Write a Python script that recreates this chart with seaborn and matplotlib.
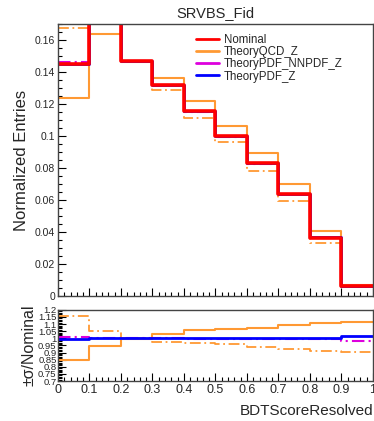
import matplotlib
matplotlib.use("Agg")
import matplotlib.pyplot as plt
from matplotlib.ticker import MultipleLocator, FuncFormatter
from matplotlib.lines import Line2D
import pandas as pd
import seaborn as sns

# bin edges of BDTScoreResolved
edges = [0.0, 0.1, 0.2, 0.3, 0.4, 0.5, 0.6, 0.7, 0.8, 0.9, 1.0]

# normalized entries per bin
nominal = [0.1453, 0.1730, 0.1466, 0.1321, 0.1154, 0.0997, 0.0829, 0.0639, 0.0364, 0.0061]
qcd_up = [0.1236, 0.1640, 0.1460, 0.1362, 0.1218, 0.1060, 0.0891, 0.0700, 0.0403, 0.0068]
qcd_down = [0.1676, 0.1815, 0.1468, 0.1290, 0.1112, 0.0960, 0.0779, 0.0591, 0.0331, 0.0055]
pdf_nnpdf = [0.1462, 0.1731, 0.1467, 0.1320, 0.1152, 0.0995, 0.0827, 0.0637, 0.0362, 0.0060]
pdf_z = [0.1449, 0.1729, 0.1466, 0.1321, 0.1154, 0.0997, 0.0830, 0.0640, 0.0366, 0.0062]

title = "SRVBS_Fid"
xlabel = "BDTScoreResolved"
labels = ["Nominal", "TheoryQCD_Z", "TheoryPDF_NNPDF_Z", "TheoryPDF_Z"]

sns.set_theme(style="ticks")
plt.rcParams['font.family'] = ['Liberation Sans', 'DejaVu Sans']

centers = [(a + b) / 2 for a, b in zip(edges[:-1], edges[1:])]
dashdot = (0, (6, 2, 1, 2))
series = [
    ("TheoryQCD_Z", qcd_up, "#ff9933", "-", 1.5),
    ("TheoryQCD_Z_down", qcd_down, "#ff9933", dashdot, 1.3),
    ("TheoryPDF_NNPDF_Z", pdf_nnpdf, "#dd00dd", dashdot, 1.5),
    ("TheoryPDF_Z", pdf_z, "#0000ff", "-", 2.0),
    ("Nominal", nominal, "#ff0000", "-", 2.6),
]

fig = plt.figure(figsize=(3.74, 4.21), dpi=100)
ax = fig.add_axes([0.155, 0.297, 0.842, 0.646])
rax = fig.add_axes([0.155, 0.095, 0.842, 0.169])

for name, vals, col, ls, lw in series:
    df = pd.DataFrame({"x": centers, "w": vals})
    sns.histplot(data=df, x="x", weights="w", bins=edges, element="step",
                 fill=False, color=col, linestyle=ls, linewidth=lw, ax=ax)
    if name != "Nominal":
        ratio = [v / n for v, n in zip(vals, nominal)]
        rdf = pd.DataFrame({"x": centers, "w": ratio})
        sns.histplot(data=rdf, x="x", weights="w", bins=edges, element="step",
                     fill=False, color=col, linestyle=ls, linewidth=lw, ax=rax)

handles = [Line2D([], [], color=c, lw=2) for c in ["#ff0000", "#ff9933", "#dd00dd", "#0000ff"]]
ax.legend(handles, labels, loc="upper left", bbox_to_anchor=(0.42, 0.985),
          frameon=False, fontsize=8.3, handlelength=2.0, handletextpad=0.4,
          labelspacing=0.02, borderpad=0)

ax.set_xlim(0, 1)
ax.set_ylim(0, 0.17)
ax.set_title(title, fontsize=10.5, pad=5)
ax.set_ylabel("Normalized Entries", fontsize=12, labelpad=4)
ax.set_xlabel("")
ax.yaxis.set_major_locator(MultipleLocator(0.02))
ax.yaxis.set_minor_locator(MultipleLocator(0.005))
ax.xaxis.set_major_locator(MultipleLocator(0.1))
ax.xaxis.set_minor_locator(MultipleLocator(0.02))
ax.yaxis.set_major_formatter(FuncFormatter(lambda v, p: "0" if abs(v) < 1e-9 else f"{v:g}"))
ax.tick_params(axis="x", labelbottom=False)

rax.set_xlim(0, 1)
rax.set_ylim(0.7, 1.2)
rax.set_ylabel("±σ/Nominal", fontsize=11.5, labelpad=1)
rax.set_xlabel(xlabel, fontsize=11, loc="right", labelpad=6)
rax.xaxis.set_major_locator(MultipleLocator(0.1))
rax.xaxis.set_minor_locator(MultipleLocator(0.02))
rax.yaxis.set_major_locator(MultipleLocator(0.05))
rax.yaxis.set_minor_locator(MultipleLocator(0.01))
rax.xaxis.set_major_formatter(FuncFormatter(lambda v, p: f"{v:g}"))
rax.yaxis.set_major_formatter(FuncFormatter(lambda v, p: f"{v:g}"))

for a in (ax, rax):
    a.tick_params(which="both", direction="in", top=False, right=False, width=0.8, color="black")
    a.tick_params(which="major", length=6, labelsize=7.5, pad=2)
    a.tick_params(which="minor", length=3)
    for s in a.spines.values():
        s.set_color("#444444")
        s.set_linewidth(1.0)
rax.tick_params(axis="y", which="major", labelsize=6.8, pad=1)
rax.tick_params(axis="x", which="major", labelsize=9, pad=2)

fig.savefig("out.png", dpi=100)
